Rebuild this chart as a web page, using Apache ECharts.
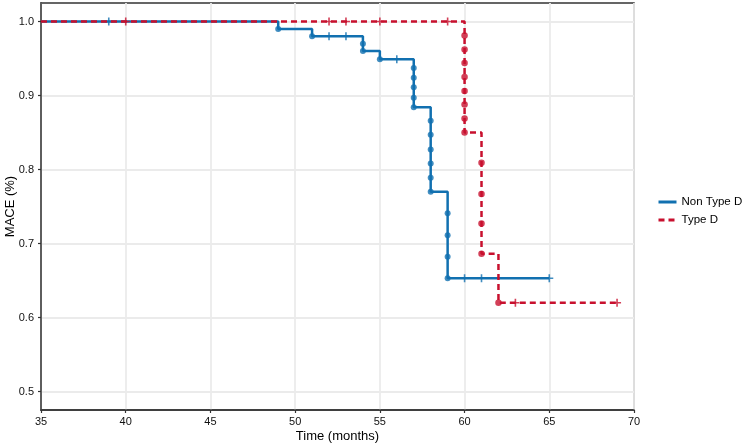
<!DOCTYPE html>
<html>
<head>
<meta charset="utf-8">
<script src="https://cdn.jsdelivr.net/npm/echarts@6/dist/echarts.min.js"></script>
<style>html,body{margin:0;padding:0;background:#fff}#c{width:744px;height:446px}</style>
</head>
<body>
<div id="c"></div>
<script>
// ---- data ----
const seriesNames = ['Non Type D', 'Type D'];
const xTicks = [35, 40, 45, 50, 55, 60, 65, 70];
const yTicks = [0.5, 0.6, 0.7, 0.8, 0.9, 1.0];

// event dots (time, survival after each event)
const nonTypeDEventTimes = [49, 51, 54, 54, 55, 57, 57, 57, 57, 57, 58, 58, 58, 58, 58, 58, 59, 59, 59, 59];
const nonTypeDEventSurv  = [0.99, 0.98, 0.97, 0.96, 0.949, 0.937, 0.924, 0.911, 0.897, 0.884, 0.866, 0.847, 0.827, 0.808, 0.789, 0.770, 0.741, 0.711, 0.682, 0.653];
const nonTypeDCensorTimes = [39, 52, 53, 56, 60, 61, 65];
const nonTypeDEnd = 65;

const typeDEventTimes = [60, 60, 60, 60, 60, 60, 60, 60, 61, 61, 61, 61, 62];
const typeDEventSurv  = [0.981, 0.962, 0.944, 0.925, 0.906, 0.888, 0.869, 0.850, 0.809, 0.767, 0.727, 0.686, 0.620];
const typeDCensorTimes = [40, 52, 53, 55, 59, 63, 69];
const typeDEnd = 69;

const startTime = 35;

// ---- helpers ----
function buildPath(times, surv, endT) {
  const pts = [[startTime, 1]];
  let cur = 1;
  for (let i = 0; i < times.length; i++) {
    pts.push([times[i], cur]);
    cur = surv[i];
    pts.push([times[i], cur]);
  }
  pts.push([endT, cur]);
  return pts;
}
function survAt(times, surv, t) {
  let s = 1;
  for (let i = 0; i < times.length; i++) if (times[i] <= t) s = surv[i];
  return s;
}
function censorPts(times, surv, ct) {
  return ct.map(t => [t, survAt(times, surv, t)]);
}
function dots(times, surv) { return times.map((t, i) => [t, surv[i]]); }

const blue = '#1170b0';
const red = '#c8102e';
const plus = 'path://M4,0h2v4h4v2h-4v4h-2v-4h-4v-2h4z';
const font = 'Liberation Sans, Arial, Helvetica, sans-serif';

const chart = echarts.init(document.getElementById('c'), null, {renderer: 'canvas'});
chart.setOption({
  animation: false,
  backgroundColor: '#fff',
  textStyle: {fontFamily: font},
  grid: {left: 41, right: 110, top: 3, bottom: 36, outerBoundsMode: 'none', containLabel: false,
         show: true, borderColor: '#333', borderWidth: 1.5, backgroundColor: 'transparent'},
  legend: {
    orient: 'vertical', left: 657, top: 196, padding: 0, itemWidth: 18, itemHeight: 12, itemGap: 6,
    data: seriesNames,
    itemStyle: {opacity: 0},
    lineStyle: {width: 3},
    textStyle: {fontSize: 11.5, color: '#000', fontFamily: font}
  },
  xAxis: {
    type: 'value', min: xTicks[0], max: xTicks[xTicks.length - 1], interval: 5,
    name: 'Time (months)', nameLocation: 'middle', nameGap: 20, nameMoveOverlap: false,
    nameTextStyle: {fontSize: 13, color: '#000', fontFamily: font},
    axisLine: {show: true, lineStyle: {color: '#333', width: 1.5}},
    axisTick: {show: true, length: 3, lineStyle: {color: '#333', width: 1.2}},
    axisLabel: {color: '#111', fontSize: 11, margin: 6, fontFamily: font},
    splitLine: {show: true, lineStyle: {color: '#ebebeb', width: 1.8}}
  },
  yAxis: {
    type: 'value', min: 0.475, max: 1.025,
    name: 'MACE (%)', nameLocation: 'middle', nameGap: 24, nameRotate: 90, nameMoveOverlap: false,
    nameTextStyle: {fontSize: 13, color: '#000', fontFamily: font},
    axisLine: {show: true, lineStyle: {color: '#333', width: 1.5}},
    axisTick: {show: true, length: 3, customValues: yTicks, lineStyle: {color: '#333', width: 1.2}},
    axisLabel: {color: '#111', fontSize: 11, margin: 7, customValues: yTicks, formatter: v => v.toFixed(1), fontFamily: font},
    splitLine: {show: true, lineStyle: {color: '#ebebeb', width: 1.8}}
  },
  series: [
    {name: seriesNames[0], type: 'line', symbol: 'none', data: buildPath(nonTypeDEventTimes, nonTypeDEventSurv, nonTypeDEnd),
     lineStyle: {color: blue, width: 2.5}, itemStyle: {color: blue}, z: 3},
    {name: 'nd_dots', type: 'scatter', symbol: 'circle', symbolSize: 6, data: dots(nonTypeDEventTimes, nonTypeDEventSurv),
     itemStyle: {color: blue}, z: 4},
    {name: 'nd_cens', type: 'scatter', symbol: plus, symbolSize: 8, data: censorPts(nonTypeDEventTimes, nonTypeDEventSurv, nonTypeDCensorTimes),
     itemStyle: {color: blue}, z: 4},
    {name: seriesNames[1], type: 'line', symbol: 'none', data: buildPath(typeDEventTimes, typeDEventSurv, typeDEnd),
     lineStyle: {color: red, width: 2.5, type: [6, 4]}, itemStyle: {color: red}, z: 5},
    {name: 'td_dots', type: 'scatter', symbol: 'circle', symbolSize: 6.5, data: dots(typeDEventTimes, typeDEventSurv),
     itemStyle: {color: red}, z: 6},
    {name: 'td_cens', type: 'scatter', symbol: plus, symbolSize: 8, data: censorPts(typeDEventTimes, typeDEventSurv, typeDCensorTimes),
     itemStyle: {color: red}, z: 6}
  ]
});
</script>
</body>
</html>
